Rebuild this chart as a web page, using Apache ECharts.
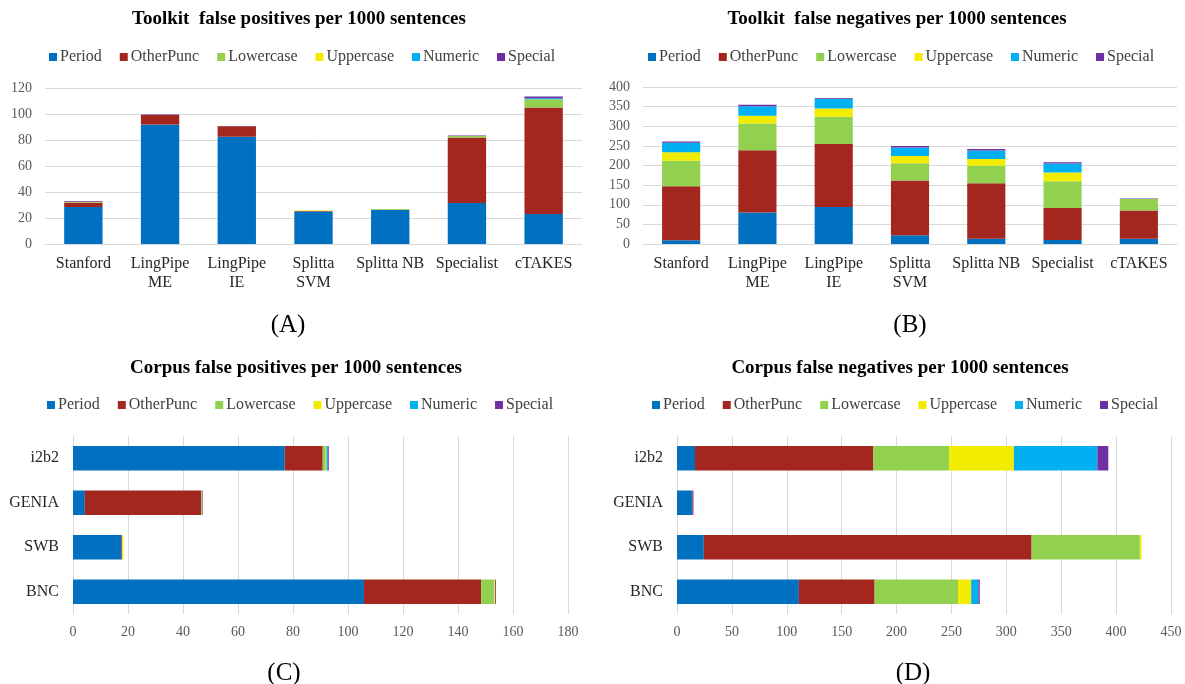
<!DOCTYPE html>
<html>
<head>
<meta charset="utf-8">
<script src="https://cdn.jsdelivr.net/npm/echarts@6/dist/echarts.min.js"></script>
<style>
html,body{margin:0;padding:0;background:#fff;}
#main{width:1185px;height:684px;}
</style>
</head>
<body>
<div id="main"></div>
<script>
// ---- Data ----
const seriesNames = ['Period', 'OtherPunc', 'Lowercase', 'Uppercase', 'Numeric', 'Special'];
const toolkits = ['Stanford', 'LingPipe\nME', 'LingPipe\nIE', 'Splitta\nSVM', 'Splitta NB', 'Specialist', 'cTAKES'];
const corpora = ['i2b2', 'GENIA', 'SWB', 'BNC'];

// (A) Toolkit false positives per 1000 sentences
const tkFP_Period    = [28.5, 92, 82.5, 25, 26.5, 31.5, 23];
const tkFP_OtherPunc = [3.3, 7.2, 8, 0.3, 0, 50.5, 82];
const tkFP_Lowercase = [0.6, 0, 0, 0, 0, 1, 6.4];
const tkFP_Uppercase = [0, 0, 0, 0.5, 0.5, 0, 0];
const tkFP_Numeric   = [0, 0, 0, 0, 0, 0, 0.8];
const tkFP_Special   = [0.5, 0.5, 0.3, 0, 0, 0.5, 1.2];

// (B) Toolkit false negatives per 1000 sentences
const tkFN_Period    = [9.5, 80, 94, 22, 13.5, 10, 13.5];
const tkFN_OtherPunc = [137.5, 159, 161, 140, 141, 82, 72];
const tkFN_Lowercase = [65, 68, 69, 44, 45, 68, 29];
const tkFN_Uppercase = [22, 20, 21, 18, 17, 22, 0];
const tkFN_Numeric   = [24, 24, 25, 22, 22, 23, 0];
const tkFN_Special   = [3, 4, 2, 4, 3.5, 3.5, 1.5];

// (C) Corpus false positives per 1000 sentences
const cpFP_Period    = [77, 4.3, 17.6, 105.8];
const cpFP_OtherPunc = [13.8, 42.3, 0.3, 42.6];
const cpFP_Lowercase = [1.1, 0.4, 0, 4.8];
const cpFP_Uppercase = [0.3, 0, 0.4, 0.3];
const cpFP_Numeric   = [0.5, 0, 0, 0];
const cpFP_Special   = [0.3, 0.2, 0, 0.3];

// (D) Corpus false negatives per 1000 sentences
const cpFN_Period    = [16.4, 13.6, 24.4, 111];
const cpFN_OtherPunc = [162.5, 0.6, 298.6, 69];
const cpFN_Lowercase = [69, 0, 98.6, 76];
const cpFN_Uppercase = [59, 0, 1.5, 12];
const cpFN_Numeric   = [76, 0, 0, 6.5];
const cpFN_Special   = [10, 0.8, 0, 1.3];

const titles = [
  'Toolkit  false positives per 1000 sentences',
  'Toolkit  false negatives per 1000 sentences',
  'Corpus false positives per 1000 sentences',
  'Corpus false negatives per 1000 sentences'
];
const panelLabels = ['(A)', '(B)', '(C)', '(D)'];

// ---- Styling ----
const colors = ['#0070C0', '#A3271F', '#92D050', '#F2EC00', '#00B0F0', '#7030A0'];
const FONT = '"Liberation Serif", "Times New Roman", serif';
const gridColor = '#D9D9D9';

const panels = [
  {data: [tkFP_Period, tkFP_OtherPunc, tkFP_Lowercase, tkFP_Uppercase, tkFP_Numeric, tkFP_Special], horiz: false},
  {data: [tkFN_Period, tkFN_OtherPunc, tkFN_Lowercase, tkFN_Uppercase, tkFN_Numeric, tkFN_Special], horiz: false},
  {data: [cpFP_Period, cpFP_OtherPunc, cpFP_Lowercase, cpFP_Uppercase, cpFP_Numeric, cpFP_Special], horiz: true},
  {data: [cpFN_Period, cpFN_OtherPunc, cpFN_Lowercase, cpFN_Uppercase, cpFN_Numeric, cpFN_Special], horiz: true}
];

const grids = [
  {left: 45, top: 88, width: 537, height: 156},
  {left: 643, top: 87, width: 534, height: 157},
  {left: 73, top: 436, width: 495, height: 178},
  {left: 677, top: 436, width: 494, height: 178}
];
const valueAxes = [
  {min: 0, max: 120, interval: 20},
  {min: 0, max: 400, interval: 50},
  {min: 0, max: 180, interval: 20},
  {min: 0, max: 450, interval: 50}
];
const titlePos = [[299, 19], [897, 19], [296, 368], [900, 368]];
const labelPos = [[288, 325], [910, 325], [284, 673], [913, 673]];
const legendPos = [[44, 44], [643, 44], [42, 392], [647, 392]];

const valueLabel = {color: '#595959', fontSize: 14, fontFamily: FONT};
const catLabel = {color: '#262626', fontSize: 16, fontFamily: FONT, lineHeight: 19};

const xAxes = [], yAxes = [], series = [], legends = [], graphics = [];

panels.forEach((p, i) => {
  const cats = i < 2 ? toolkits : corpora;
  const catAxis = {
    type: 'category', gridIndex: i, data: cats,
    axisLine: {show: true, lineStyle: {color: gridColor}},
    axisTick: {show: false},
    axisLabel: Object.assign({margin: p.horiz ? 14 : 10, interval: 0}, catLabel),
    splitLine: {show: false}
  };
  const valAxis = Object.assign({
    type: 'value', gridIndex: i,
    axisLine: {show: false}, axisTick: {show: false},
    axisLabel: Object.assign({margin: p.horiz ? 11 : 13}, valueLabel),
    splitLine: {show: true, lineStyle: {color: gridColor, width: 1}}
  }, valueAxes[i]);
  if (p.horiz) {
    catAxis.inverse = true;
    xAxes.push(valAxis);
    yAxes.push(catAxis);
  } else {
    xAxes.push(catAxis);
    yAxes.push(valAxis);
  }
  p.data.forEach((vals, k) => {
    series.push({
      name: seriesNames[k], type: 'bar', stack: 'p' + i,
      xAxisIndex: i, yAxisIndex: i,
      barWidth: p.horiz ? '55%' : '50%',
      itemStyle: {color: colors[k]},
      emphasis: {disabled: true},
      data: vals
    });
  });
  legends.push({
    left: legendPos[i][0], top: legendPos[i][1],
    icon: 'rect', itemWidth: 8, itemHeight: 8, itemGap: 18,
    selectedMode: false,
    textStyle: {color: '#404040', fontSize: 16, fontFamily: FONT, padding: [0, 0, 0, -2]},
    data: seriesNames
  });
  graphics.push({
    type: 'text', x: titlePos[i][0], y: titlePos[i][1],
    style: {text: titles[i], font: 'bold 19px ' + FONT, fill: '#000', textAlign: 'center', textVerticalAlign: 'middle'}
  });
  graphics.push({
    type: 'text', x: labelPos[i][0], y: labelPos[i][1],
    style: {text: panelLabels[i], font: '25px ' + FONT, fill: '#000', textAlign: 'center', textVerticalAlign: 'middle'}
  });
});

const chart = echarts.init(document.getElementById('main'), null, {renderer: 'canvas'});
chart.setOption({
  animation: false,
  backgroundColor: '#fff',
  color: colors,
  grid: grids,
  xAxis: xAxes,
  yAxis: yAxes,
  legend: legends,
  graphic: graphics,
  series: series
});
</script>
</body>
</html>
